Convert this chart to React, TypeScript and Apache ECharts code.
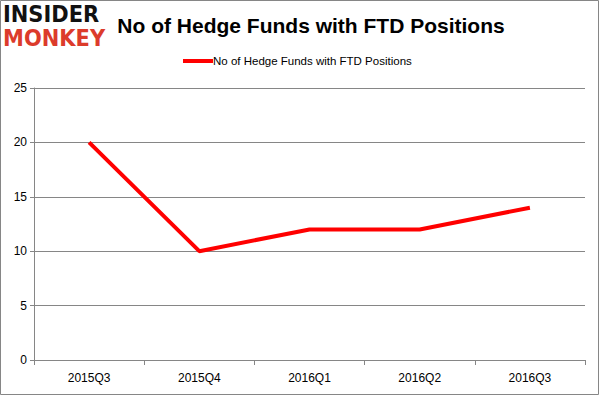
import React, { useEffect, useRef } from "react";
import * as echarts from "echarts";

const categories = ["2015Q3", "2015Q4", "2016Q1", "2016Q2", "2016Q3"];
const hedgeFunds = [20, 10, 12, 12, 14];
const seriesName = "No of Hedge Funds with FTD Positions";
const titleText = "No of Hedge Funds with FTD Positions";

export default function App() {
  const ref = useRef<HTMLDivElement>(null);
  useEffect(() => {
    document.body.style.margin = "0";
    const chart = echarts.init(ref.current!, null, { renderer: "svg" });
    const gray = "#868686";
    chart.setOption({
      animation: false,
      backgroundColor: "#ffffff",
      title: {
        text: titleText,
        left: 306,
        top: 10,
        textAlign: "center",
        textStyle: {
          fontFamily: "Liberation Sans",
          fontWeight: "bold",
          fontSize: 21,
          color: "#000000",
        },
      },
      legend: {
        top: 55,
        left: 183,
        padding: 0,
        itemWidth: 30,
        itemHeight: 4,
        itemGap: 0,
        icon: "rect",
        textStyle: {
          fontFamily: "Liberation Sans",
          fontSize: 11.5,
          color: "#000000",
          padding: [0, 0, 0, -5],
        },
        data: [seriesName],
      },
      grid: { left: 34, right: 15, top: 88, bottom: 36 },
      xAxis: {
        type: "category",
        data: categories,
        boundaryGap: true,
        axisLine: { lineStyle: { color: gray, width: 1 } },
        axisTick: { show: true, length: 5, lineStyle: { color: gray } },
        axisLabel: {
          fontFamily: "Liberation Sans",
          fontSize: 12,
          color: "#000000",
          margin: 12,
        },
        splitLine: { show: false },
      },
      yAxis: {
        type: "value",
        min: 0,
        max: 25,
        interval: 5,
        axisLine: { show: true, lineStyle: { color: gray, width: 1 } },
        axisTick: { show: true, length: 4, lineStyle: { color: gray } },
        axisLabel: {
          fontFamily: "Liberation Sans",
          fontSize: 12,
          color: "#000000",
          margin: 7,
        },
        splitLine: { show: true, lineStyle: { color: gray, width: 1 } },
      },
      series: [
        {
          name: seriesName,
          type: "line",
          data: hedgeFunds,
          symbol: "none",
          lineStyle: { color: "#ff0000", width: 4 },
          itemStyle: { color: "#ff0000" },
        },
      ],
      graphic: [
        {
          type: "rect",
          shape: { x: 0.5, y: 0.5, width: 598, height: 394 },
          style: { fill: "none", stroke: gray, lineWidth: 1 },
          silent: true,
        },
        {
          type: "text",
          x: 3,
          y: 3,
          scaleY: 1.1,
          style: {
            text: "INSIDER",
            fontFamily: "DejaVu Sans",
            fontWeight: "bold",
            fontSize: 21,
            fill: "#111111",
          },
        },
        {
          type: "text",
          x: 3,
          y: 27,
          scaleY: 1.1,
          style: {
            text: "MONKEY",
            fontFamily: "DejaVu Sans",
            fontWeight: "bold",
            fontSize: 21,
            fill: "#dc3b2b",
          },
        },
      ],
    });
    return () => chart.dispose();
  }, []);
  return <div ref={ref} style={{ width: 600, height: 396 }} />;
}
